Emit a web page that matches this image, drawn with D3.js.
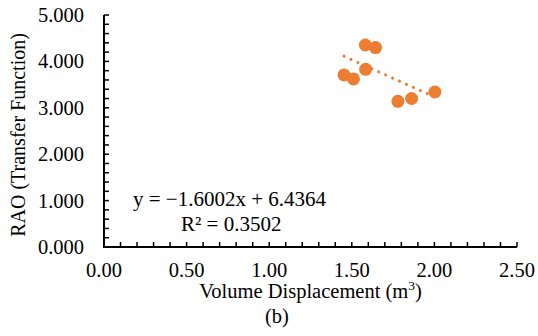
<!DOCTYPE html>
<html><head><meta charset="utf-8">
<script src="https://cdn.jsdelivr.net/npm/d3@7"></script>
<style>body{margin:0;background:#fff}svg{display:block}</style>
</head><body>
<script>
const volume = [1.582, 1.644, 1.453, 1.510, 1.584, 1.779, 1.862, 2.003];
const rao =    [4.354, 4.297, 3.709, 3.623, 3.830, 3.140, 3.200, 3.340];
const slope = -1.6002, intercept = 6.4364;
const xTicks = [0, 0.5, 1.0, 1.5, 2.0, 2.5];
const yTicks = [0, 1, 2, 3, 4, 5];
const eqText = "y = \u22121.6002x + 6.4364";
const r2Text = "R\u00B2 = 0.3502";

const W = 538, H = 336;
const FONT = "'Liberation Serif', 'Times New Roman', 'DejaVu Serif', serif";
const svg = d3.select("body").append("svg").attr("width", W).attr("height", H)
  .attr("font-family", FONT).style("font-family", FONT);
const x = d3.scaleLinear().domain([0, 2.5]).range([104, 517]);
const y = d3.scaleLinear().domain([0, 5]).range([247, 15]);
const color = "#ED7D31";

// y axis
const gy = svg.append("g");
gy.append("line").attr("x1", x(0)).attr("x2", x(0)).attr("y1", y(0) + 1).attr("y2", y(5)).attr("stroke", "#000").attr("stroke-width", 2);
d3.range(0, 5.0001, 0.2).forEach(v => {
  gy.append("line").attr("x1", x(0)).attr("x2", x(0) + 5).attr("y1", y(v)).attr("y2", y(v)).attr("stroke", "#000").attr("stroke-width", 1.5);
});
yTicks.forEach(v => {
  gy.append("text").attr("x", 84).attr("y", y(v) + 6.9).attr("text-anchor", "end").attr("font-size", 20.5).text(d3.format(".3f")(v));
});
// x axis
const gx = svg.append("g");
gx.append("line").attr("x1", x(0) - 1).attr("x2", x(2.5)).attr("y1", y(0)).attr("y2", y(0)).attr("stroke", "#000").attr("stroke-width", 2);
d3.range(0, 2.5001, 0.1).forEach(v => {
  gx.append("line").attr("x1", x(v)).attr("x2", x(v)).attr("y1", y(0)).attr("y2", y(0) - 5).attr("stroke", "#000").attr("stroke-width", 1.5);
});
xTicks.forEach(v => {
  gx.append("text").attr("x", x(v)).attr("y", 277).attr("text-anchor", "middle").attr("font-size", 20.5).text(d3.format(".2f")(v));
});

// axis titles
const xt = svg.append("text").attr("x", (x(0) + x(2.5)) / 2).attr("y", 298).attr("text-anchor", "middle").attr("font-size", 20.5);
xt.append("tspan").text("Volume Displacement (m");
xt.append("tspan").attr("font-size", 13.5).attr("dy", -8).text("3");
xt.append("tspan").attr("dy", 8).text(")");
svg.append("text").attr("x", 277).attr("y", 323).attr("text-anchor", "middle").attr("font-size", 20.5).text("(b)");
svg.append("text").attr("transform", `translate(25,${(y(0) + y(5)) / 2 + 4}) rotate(-90)`).attr("text-anchor", "middle").attr("font-size", 20).text("RAO (Transfer Function)");

// points
const pts = volume.map((v, i) => ({x: v, y: rao[i]}));
svg.append("g").selectAll("circle").data(pts).join("circle")
  .attr("cx", d => x(d.x)).attr("cy", d => y(d.y)).attr("r", 6.5).attr("fill", color);

// trendline
const x0 = d3.min(volume), x1 = d3.max(volume);
svg.append("line").attr("x1", x(x0)).attr("y1", y(slope * x0 + intercept))
  .attr("x2", x(x1)).attr("y2", y(slope * x1 + intercept))
  .attr("stroke", color).attr("stroke-width", 3).attr("stroke-linecap", "round").attr("stroke-dasharray", "0.1 7.5");

// equation
svg.append("text").attr("x", 133).attr("y", 206).attr("font-size", 21).text(eqText);
svg.append("text").attr("x", 181).attr("y", 231).attr("font-size", 21).text(r2Text);
</script>
</body></html>
